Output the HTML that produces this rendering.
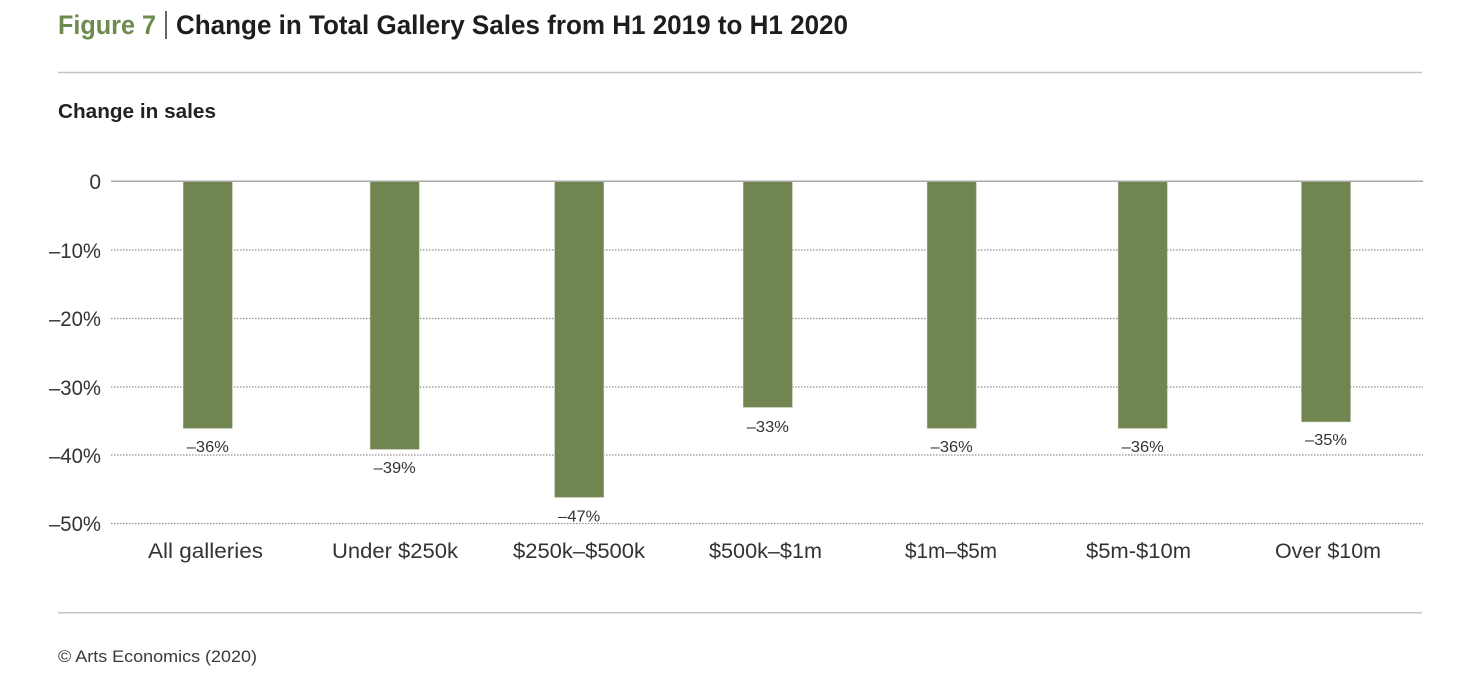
<!DOCTYPE html>
<html>
<head>
<meta charset="utf-8">
<style>
  html,body{margin:0;padding:0;background:#fff;}
  svg{display:block;}
  text{font-family:"Liberation Sans", "DejaVu Sans", sans-serif;}
</style>
</head>
<body>
<svg width="1460" height="699" viewBox="0 0 1460 699" xmlns="http://www.w3.org/2000/svg">
  <!-- Title -->
  <text x="58" y="34" font-size="27" font-weight="bold" fill="#6e8a4f" textLength="98" lengthAdjust="spacingAndGlyphs">Figure 7</text>
  <line x1="166" y1="11" x2="166" y2="39" stroke="#333" stroke-width="1.5"/>
  <text x="176" y="34" font-size="27" font-weight="bold" fill="#1e1e1e" textLength="672" lengthAdjust="spacingAndGlyphs">Change in Total Gallery Sales from H1 2019 to H1 2020</text>

  <!-- top rule -->
  <line x1="58" y1="72.5" x2="1422" y2="72.5" stroke="#c4c4c4" stroke-width="1.5"/>

  <!-- subtitle -->
  <text x="58" y="118" font-size="20" font-weight="bold" fill="#222" textLength="158" lengthAdjust="spacingAndGlyphs">Change in sales</text>

  <!-- gridlines -->
  <g stroke="#8f8f8f" stroke-width="1.2" stroke-dasharray="1.5 1.5">
    <line x1="111" y1="250" x2="1423" y2="250"/>
    <line x1="111" y1="318.5" x2="1423" y2="318.5"/>
    <line x1="111" y1="387" x2="1423" y2="387"/>
    <line x1="111" y1="455" x2="1423" y2="455"/>
    <line x1="111" y1="523.5" x2="1423" y2="523.5"/>
  </g>

  <!-- y labels -->
  <g font-size="21" fill="#333" text-anchor="end">
    <text x="101" y="189">0</text>
    <text x="101" y="258" textLength="52" lengthAdjust="spacingAndGlyphs">–10%</text>
    <text x="101" y="326" textLength="52" lengthAdjust="spacingAndGlyphs">–20%</text>
    <text x="101" y="395" textLength="52" lengthAdjust="spacingAndGlyphs">–30%</text>
    <text x="101" y="463" textLength="52" lengthAdjust="spacingAndGlyphs">–40%</text>
    <text x="101" y="531" textLength="52" lengthAdjust="spacingAndGlyphs">–50%</text>
  </g>

  <!-- bars -->
  <g fill="#718551" stroke="#a9b596" stroke-width="0.6">
    <rect x="183.3" y="181.3" width="49" height="247"/>
    <rect x="370.2" y="181.3" width="49" height="268"/>
    <rect x="554.7" y="181.3" width="49" height="316"/>
    <rect x="743.3" y="181.3" width="49" height="226"/>
    <rect x="927.2" y="181.3" width="49" height="247"/>
    <rect x="1118.2" y="181.3" width="49" height="247"/>
    <rect x="1301.5" y="181.3" width="49" height="240.5"/>
  </g>

  <!-- zero line -->
  <line x1="111" y1="181.3" x2="1423" y2="181.3" stroke="#a8a8a8" stroke-width="1.5"/>

  <!-- value labels -->
  <g font-size="16" fill="#333" text-anchor="middle">
    <text x="207.8" y="452" textLength="42" lengthAdjust="spacingAndGlyphs">–36%</text>
    <text x="394.7" y="473" textLength="42" lengthAdjust="spacingAndGlyphs">–39%</text>
    <text x="579.2" y="521.5" textLength="42" lengthAdjust="spacingAndGlyphs">–47%</text>
    <text x="767.8" y="432" textLength="42" lengthAdjust="spacingAndGlyphs">–33%</text>
    <text x="951.7" y="452" textLength="42" lengthAdjust="spacingAndGlyphs">–36%</text>
    <text x="1142.7" y="452" textLength="42" lengthAdjust="spacingAndGlyphs">–36%</text>
    <text x="1326" y="445" textLength="42" lengthAdjust="spacingAndGlyphs">–35%</text>
  </g>

  <!-- category labels -->
  <g font-size="21" fill="#333" text-anchor="middle">
    <text x="205.5" y="558" textLength="115" lengthAdjust="spacingAndGlyphs">All galleries</text>
    <text x="395" y="558" textLength="126" lengthAdjust="spacingAndGlyphs">Under $250k</text>
    <text x="579" y="558" textLength="132" lengthAdjust="spacingAndGlyphs">$250k–$500k</text>
    <text x="765.5" y="558" textLength="113" lengthAdjust="spacingAndGlyphs">$500k–$1m</text>
    <text x="951" y="558" textLength="92" lengthAdjust="spacingAndGlyphs">$1m–$5m</text>
    <text x="1138.5" y="558" textLength="105" lengthAdjust="spacingAndGlyphs">$5m-$10m</text>
    <text x="1328" y="558" textLength="106" lengthAdjust="spacingAndGlyphs">Over $10m</text>
  </g>

  <!-- bottom rule -->
  <line x1="58" y1="612.7" x2="1422" y2="612.7" stroke="#c4c4c4" stroke-width="1.5"/>

  <!-- footer -->
  <text x="58" y="662" font-size="17" fill="#3a3a3a" textLength="199" lengthAdjust="spacingAndGlyphs">© Arts Economics (2020)</text>
</svg>
</body>
</html>
